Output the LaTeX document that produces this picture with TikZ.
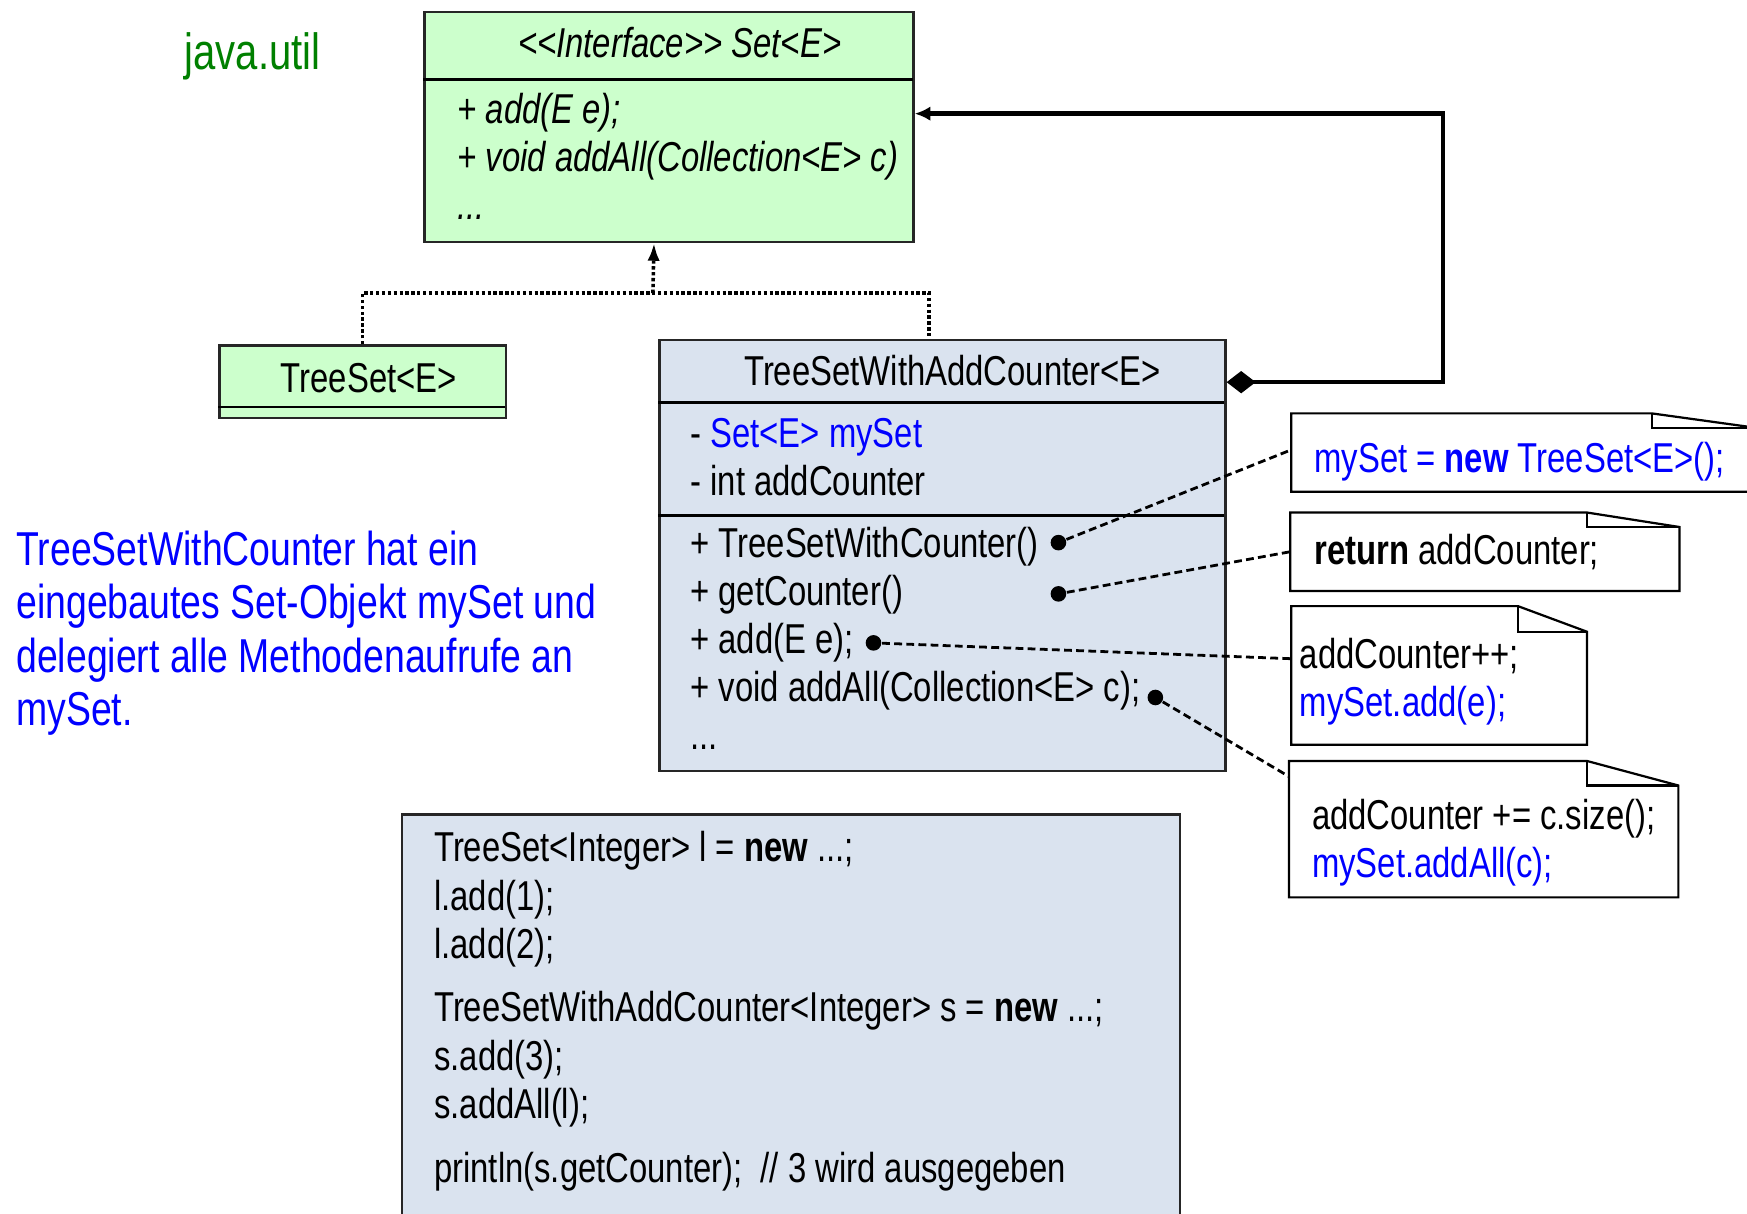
\documentclass[tikz,border=0pt]{standalone}
\usepackage{fontspec}
\setmainfont{Liberation Sans}[FakeStretch=0.786]
\usetikzlibrary{positioning,arrows.meta}

\definecolor{setgreen}{HTML}{CCFFCC}
\definecolor{classblue}{HTML}{DAE3EF}
\definecolor{pkggreen}{HTML}{008000}
\definecolor{codeblue}{HTML}{0000FF}
\newcommand\codesize{\fontsize{10.67}{12.3}\selectfont}

\tikzset{
  umlbox/.style={draw=black!85, line width=0.2mm, inner sep=0pt, anchor=north west},
  txt/.style={inner sep=0pt, anchor=base west, align=left, font=\codesize},
  realize/.style={line width=0.32mm, dash pattern=on 0.85pt off 0.65pt},
  compose/.style={line width=0.4mm, {Diamond[length=2.6mm,width=2mm]}-{Latex[length=1.4mm,width=1.3mm]}},
  dot/.style={circle, fill=black, inner sep=0pt, minimum size=1.4mm},
  notebox/.style={fill=white, inner sep=0pt, anchor=north west},
  fold/.style={draw=black, line width=0.2mm},
  link/.style={line width=0.25mm, dash pattern=on 2pt off 1.1pt}
}

\begin{document}
\begin{tikzpicture}[x=0.1mm, y=-0.1mm]
  \useasboundingbox (0,0) rectangle (1568,1089);

  % package
  \node[txt, text=pkggreen, font=\fontsize{13}{14}\selectfont] (pkg) at (165,62) {java.util};

  % interface Set (multi-line texts sit on their last baseline)
  \node[umlbox, fill=setgreen, minimum width=43.9mm, minimum height=20.6mm] (set) at (380,10) {};
  \draw[line width=0.25mm] (set.north west) ++(0,61) -- ++(439,0);
  \node[txt, anchor=base, font=\codesize\itshape] (settitle) at (610,52) {<{}<Interface>{}> Set<E>};
  \node[txt, font=\codesize\itshape] (setops) at (410,197) {+ add(E e);\\ + void addAll(Collection<E> c)\\ ...};

  % TreeSet
  \node[umlbox, fill=setgreen, minimum width=25.7mm, minimum height=6.5mm] (treeset) at (196,309) {};
  \draw[line width=0.2mm] (treeset.south west) ++(0,-11) -- ++(257,0);
  \node[txt, anchor=base] (treesettitle) at (331,352) {TreeSet<E>};

  % TreeSetWithAddCounter
  \node[umlbox, fill=classblue, minimum width=50.8mm, minimum height=38.7mm] (tswac) at (591,304) {};
  \draw[line width=0.25mm] (tswac.north west) ++(0,57) -- ++(508,0);
  \draw[line width=0.25mm] (tswac.north west) ++(0,159) -- ++(508,0);
  \node[txt, anchor=base] (tswactitle) at (855,346) {TreeSetWithAddCounter<E>};
  \node[txt] (tswacattr) at (619,445) {- \textcolor{codeblue}{Set<E> mySet}\\ - int addCounter};
  \node[txt] (tswacops) at (619,673) {+ TreeSetWithCounter()\\ + getCounter()\\ + add(E e);\\ + void addAll(Collection<E> c);\\ ...};

  % realization
  \coordinate (join) at (586,263);
  \draw[realize] (treeset.north) |- (join) -| ([xshift=-1.2mm]tswac.north);
  \draw[realize, -{Latex[length=1.6mm,width=1.1mm]}] (join) -- ([xshift=-1.35mm]set.south);

  % composition
  \draw[compose] ([yshift=-3.9mm]tswac.north east) -| ([xshift=47.4mm,yshift=1.2mm]set.east) -- ([yshift=1.2mm]set.east);

  % notes
  \node[dot] (d1) at (950,487) {};
  \node[dot] (d2) at (950,533) {};
  \node[dot] (d3) at (784,577) {};
  \node[dot] (d4) at (1037,626) {};

  \node[notebox, minimum width=41.6mm, minimum height=6.9mm] (n1) at (1159,371) {};
  \draw[fold] (n1.south west) |- ([xshift=-9.4mm]n1.north east) -- ([yshift=-1.3mm]n1.north east) -- (n1.south east) -- cycle;
  \draw[fold] ([xshift=-9.4mm]n1.north east) |- ([yshift=-1.3mm]n1.north east);
  \node[txt] (n1txt) at (1179,424) {\textcolor{codeblue}{mySet = \textbf{new} TreeSet<E>();}};

  \node[notebox, minimum width=34.8mm, minimum height=6.9mm] (n2) at (1158,460) {};
  \draw[fold] (n2.south west) |- ([xshift=-8.3mm]n2.north east) -- ([yshift=-1.3mm]n2.north east) -- (n2.south east) -- cycle;
  \draw[fold] ([xshift=-8.3mm]n2.north east) |- ([yshift=-1.3mm]n2.north east);
  \node[txt] (n2txt) at (1179,507) {\textbf{return} addCounter;};

  \node[notebox, minimum width=26.4mm, minimum height=12.3mm] (n3) at (1159,544) {};
  \draw[fold] (n3.south west) |- ([xshift=-6.2mm]n3.north east) -- ([yshift=-2.3mm]n3.north east) -- (n3.south east) -- cycle;
  \draw[fold] ([xshift=-6.2mm]n3.north east) |- ([yshift=-2.3mm]n3.north east);
  \node[txt] (n3txt) at (1166,643) {addCounter++;\\ \textcolor{codeblue}{mySet.add(e);}};

  \node[notebox, minimum width=34.8mm, minimum height=12.1mm] (n4) at (1157,683) {};
  \draw[fold] (n4.south west) |- ([xshift=-8.2mm]n4.north east) -- ([yshift=-2.2mm]n4.north east) -- (n4.south east) -- cycle;
  \draw[fold] ([xshift=-8.2mm]n4.north east) |- ([yshift=-2.2mm]n4.north east);
  \node[txt] (n4txt) at (1177,788) {addCounter += c.size();\\ \textcolor{codeblue}{mySet.addAll(c);}};

  \draw[link] (d1) -- ([yshift=0.25mm]n1.west);
  \draw[link] (d2) -- (n2.west);
  \draw[link] (d3) -- ([yshift=1.5mm]n3.west);
  \draw[link] (d4) -- ([yshift=-1.4mm]n4.north west);

  % remark
  \node[txt, text=codeblue, font=\fontsize{12.15}{13.6}\selectfont] (remark) at (14,651) {TreeSetWithCounter hat ein\\ eingebautes Set-Objekt mySet und\\ delegiert alle Methodenaufrufe an\\ mySet.};

  % client code
  \node[umlbox, fill=classblue, minimum width=69.8mm, minimum height=40mm] (client) at (360,730) {};
  \node[txt] (clientcode) at (389,1061) {TreeSet<Integer> l = \textbf{new} ...;\\ l.add(1);\\ l.add(2);\\[4pt] TreeSetWithAddCounter<Integer> s = \textbf{new} ...;\\ s.add(3);\\ s.addAll(l);\\[4pt] println(s.getCounter);~~// 3 wird ausgegeben};
\end{tikzpicture}
\end{document}
